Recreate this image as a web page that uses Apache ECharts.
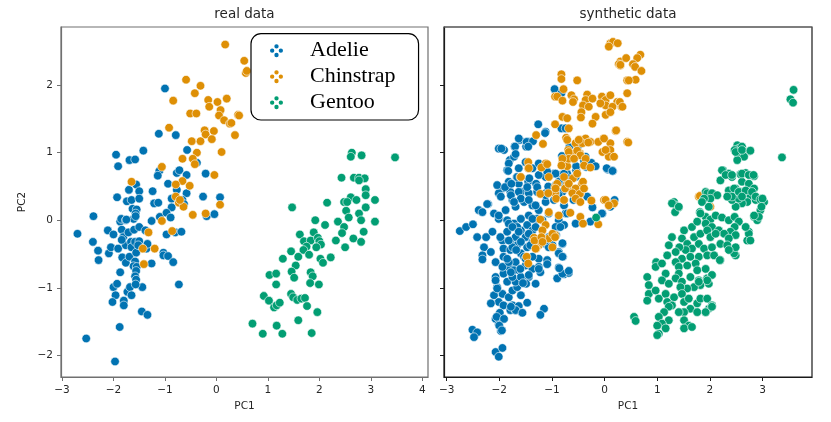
<!DOCTYPE html>
<html>
<head>
<meta charset="utf-8">
<script src="https://cdn.jsdelivr.net/npm/echarts@6/dist/echarts.min.js"></script>
<style>
  html, body { margin: 0; padding: 0; background: #fff; }
  #chart { width: 831px; height: 422px; }
</style>
</head>
<body>
<div id="chart"></div>
<script>
// tick labels
const xTicksReal = [-3, -2, -1, 0, 1, 2, 3, 4];
const xTicksSynth = [-3, -2, -1, 0, 1, 2, 3];
const yTicks = [-2, -1, 0, 1, 2];

const species = ['Adelie', 'Chinstrap', 'Gentoo'];
const speciesColors = ['#0173b2', '#de8f05', '#029e73'];

// real data (PC1, PC2)
const realAdelie = [
  [-1.0,1.95],[-1.12,1.28],[-0.79,1.26],[-1.42,1.03],[-1.95,0.97],[-1.91,0.80],[-1.69,0.89],[-1.58,0.90],
  [-0.57,1.04],[-0.38,0.85],[-1.11,0.73],[-1.14,0.66],[-0.77,0.70],[-0.72,0.74],[-0.58,0.67],[-0.21,0.69],
  [-0.94,0.54],[-1.70,0.45],[-1.56,0.53],[-1.50,0.43],[-1.24,0.43],[-0.77,0.45],[-0.58,0.40],[-1.93,0.34],
  [-1.74,0.28],[-1.65,0.30],[-1.50,0.32],[-1.21,0.25],[-1.13,0.26],[-0.87,0.32],[-0.66,0.30],[-0.26,0.35],
  [0.07,0.34],[-1.63,0.17],[-1.55,0.16],[-0.87,0.19],[-0.63,0.24],
  [-2.70,-0.20],[-2.39,0.06],[-2.40,-0.32],[-2.30,-0.45],[-2.29,-0.59],[-2.11,-0.15],[-2.09,-0.49],[-2.05,-0.40],
  [-2.00,-0.21],[-1.91,-0.42],[-1.87,-0.02],[-1.85,0.02],[-1.84,-0.14],[-1.76,0.00],[-1.81,-0.25],[-1.83,-0.55],
  [-1.76,-0.37],[-1.71,-0.18],[-1.66,-0.32],[-1.65,-0.40],[-1.76,-0.63],[-1.69,-0.54],[-1.87,-0.77],
  [-1.61,0.02],[-1.57,0.10],[-1.60,-0.14],[-1.50,-0.10],[-1.58,-0.32],[-1.56,-0.48],[-1.58,-0.61],[-1.61,-0.68],
  [-1.55,-0.69],[-1.56,-0.75],[-1.58,-0.83],[-1.56,-0.88],[-1.50,-0.31],[-1.38,-0.15],[-1.36,-0.42],[-1.34,-0.35],
  [-1.26,-0.64],[-1.26,-0.01],[-1.10,0.05],[-0.97,0.11],[-0.89,0.04],[-0.97,-0.21],[-0.80,-0.18],[-0.68,-0.17],
  [-1.03,-0.48],[-1.03,-0.52],[-0.94,-0.53],[-0.84,-0.62],[-0.73,-0.95],[-0.19,0.06],[-0.04,0.09],
  [-2.00,-0.99],[-1.93,-0.94],[-1.96,-1.11],[-2.02,-1.21],[-1.80,-1.19],[-1.80,-1.26],[-1.73,-1.06],[-1.68,-0.99],
  [-1.65,-1.11],[-1.44,-0.99],[-1.45,-1.35],[-1.34,-1.40],[-1.88,-1.58],[-2.53,-1.75],[-1.97,-2.09],
  [-1.57,0.06],[-1.75,0.01],[-1.84,-0.29],[-1.52,-0.37],[-1.57,-0.95]
];
const realChinstrap = [
  [0.17,2.60],[-0.59,2.08],[-0.31,1.99],[-0.42,1.88],[-0.84,1.77],[-0.16,1.78],[0.02,1.75],[-0.14,1.68],
  [0.20,1.80],[0.08,1.63],[0.05,1.55],[-0.51,1.58],[-0.39,1.58],[0.15,1.48],[0.26,1.43],[0.42,1.56],
  [-0.92,1.37],[-0.23,1.33],[-0.05,1.32],[-0.21,1.27],[0.36,1.26],[-0.48,1.17],[-0.31,1.17],[-0.09,1.20],
  [0.10,1.01],[-0.38,1.00],[-0.66,0.91],[-0.46,0.91],[-0.42,0.83],[-1.06,0.79],[-0.04,0.67],[-0.66,0.58],
  [-0.79,0.53],[-0.52,0.51],[-1.65,0.57],[-0.79,0.35],[-0.73,0.26],[0.07,0.23],[0.54,2.36],[0.57,2.18],
  [0.59,2.21],[0.44,1.55],[0.29,1.44],[-0.64,0.20],[-0.46,0.08],[-1.06,-0.01],[-1.32,-0.18],[-1.43,-0.42],
  [-1.20,-0.42],[-1.41,-0.65],[-0.86,-0.16],[-0.21,0.10],[-0.71,0.30]
];
const realGentoo = [
  [2.63,1.00],[2.61,0.94],[2.82,0.96],[3.47,0.93],[2.43,0.63],[2.67,0.63],[2.77,0.63],[2.88,0.62],
  [2.77,0.59],[2.90,0.46],[2.90,0.37],[2.61,0.34],[2.72,0.30],[2.48,0.27],[2.54,0.27],[3.08,0.30],
  [2.15,0.26],[1.47,0.19],[2.52,0.14],[2.90,0.19],[2.77,0.10],[2.57,0.04],[1.92,0.00],[2.11,-0.07],
  [2.36,-0.02],[2.48,-0.10],[2.81,0.00],[3.08,-0.02],[2.44,-0.19],[2.86,-0.17],[1.62,-0.21],[1.89,-0.18],
  [1.70,-0.31],[1.83,-0.30],[1.97,-0.26],[2.00,-0.31],[2.03,-0.36],[1.94,-0.40],[1.75,-0.39],[2.32,-0.30],
  [2.66,-0.27],[2.81,-0.32],[2.50,-0.40],[1.45,-0.46],[1.69,-0.44],[1.80,-0.51],[1.29,-0.57],[1.59,-0.54],
  [2.02,-0.57],[2.07,-0.63],[2.22,-0.55],[1.54,-0.67],[1.46,-0.76],[1.03,-0.81],[1.16,-0.79],[1.51,-0.85],
  [1.83,-0.77],[1.87,-0.83],[1.16,-0.95],[1.82,-0.93],[1.99,-0.95],[0.92,-1.12],[1.02,-1.19],[1.12,-1.29],
  [1.17,-1.26],[1.23,-1.22],[1.45,-1.09],[1.49,-1.14],[1.57,-1.18],[1.65,-1.16],[1.72,-1.15],[1.76,-1.27],
  [1.96,-1.36],[1.59,-1.48],[0.70,-1.53],[1.17,-1.56],[0.90,-1.68],[1.28,-1.68],[1.85,-1.67]
];

// synthetic data (PC1, PC2)
const synthAdelie = [
  [-1.61,1.19],[-1.45,1.16],[-1.12,1.31],[-1.71,1.09],[-2.01,1.06],[-1.91,1.04],[-1.49,1.09],[-1.80,0.89],
  [-1.72,0.94],[-1.85,0.74],[-1.67,0.64],[-1.45,0.57],[-1.30,0.54],[-1.12,0.64],[-0.96,0.69],[-0.84,0.67],
  [-0.71,0.69],[-0.54,0.74],[-0.39,0.88],[-0.35,0.79],[0.06,0.75],[0.16,0.73],[-0.93,0.52],[-0.77,0.54],
  [-1.06,0.47],[-1.94,0.47],[-1.82,0.57],[-2.01,0.40],[-1.79,0.42],[-1.63,0.54],[-1.59,0.42],[-1.44,0.40],
  [-1.28,0.42],[-1.12,0.40],[-0.99,0.44],[-0.80,0.42],[-0.65,0.47],[-0.33,0.35],[-0.23,0.19],[-0.04,0.10],
  [0.19,0.30],[-2.21,0.24],[-2.39,0.15],[-2.32,0.12],[-2.10,0.10],[-2.01,0.02],[-1.88,0.15],[-1.75,0.30],
  [-1.69,0.20],[-1.53,0.27],[-1.37,0.22],[-1.25,0.15],[-1.12,0.27],[-0.96,0.30],[-0.87,0.37],[-0.77,0.22],
  [-0.74,0.10],[-0.87,0.00],[-0.77,-0.07],[-0.93,-0.10],[-1.06,0.10],[-1.28,0.02],[-1.44,0.07],[-1.59,0.02],
  [-1.72,-0.05],[-1.85,0.00],[-2.75,-0.16],[-2.63,-0.10],[-2.50,-0.06],[-2.42,-0.25],[-2.25,-0.25],[-2.13,-0.17],
  [-2.29,-0.40],[-2.32,-0.52],[-2.07,-0.62],[-1.94,-0.30],[-1.85,-0.17],[-1.79,-0.30],[-1.69,-0.25],[-1.59,-0.15],
  [-1.50,-0.25],[-1.92,-0.42],[-1.79,-0.44],[-1.66,-0.37],[-1.59,-0.49],[-1.47,-0.40],[-1.37,-0.32],[-1.25,-0.30],
  [-1.12,-0.35],[-1.06,-0.25],[-0.99,-0.37],[-0.80,-0.35],[-0.87,-0.47],[-0.79,-0.54],[-1.25,-0.57],[-1.37,-0.54],
  [-1.09,-0.59],[-1.25,-0.69],[-1.22,-0.77],[-0.87,-0.70],[-0.77,-0.80],[-0.68,-0.78],[-0.90,-0.86],[-2.07,-0.84],
  [-1.92,-0.79],[-1.82,-0.69],[-1.69,-0.62],[-1.63,-0.74],[-1.50,-0.67],[-1.44,-0.84],[-1.49,-0.94],[-2.04,-0.99],
  [-1.94,-1.09],[-2.10,-1.11],[-2.01,-1.21],[-2.16,-1.23],[-1.92,-1.26],[-1.82,-1.14],[-1.75,-1.04],[-1.66,-0.99],
  [-1.59,-1.11],[-1.75,-1.26],[-1.63,-1.27],[-1.47,-1.22],[-1.79,-1.33],[-1.69,-1.33],[-1.57,-1.37],[-1.99,-1.37],
  [-2.07,-1.46],[-2.01,-1.54],[-1.97,-1.64],[-1.15,-1.31],[-1.22,-1.40],[-2.51,-1.62],[-2.42,-1.66],[-2.48,-1.73],
  [-2.07,-1.95],[-1.94,-1.89],[-2.01,-2.02],[-1.82,-0.05],[-1.66,-0.10],[-1.47,-0.07],[-1.37,-0.15],[-1.75,-0.40],
  [-1.59,-0.32],[-1.53,-0.54],[-1.72,-0.74],[-1.85,-0.91],[-1.69,-0.91],[-1.94,-0.69],[-1.59,-0.84],[-1.75,-0.84],
  [-1.37,-0.72],[-1.92,-0.54],[-1.82,-0.62],
  [-0.95,1.94],[-0.82,1.88],[-0.82,1.36],[-0.74,1.36],[-1.26,1.42],[-1.13,1.29],[-1.63,1.21],[-1.48,1.16],
  [-1.36,1.17],[-1.96,1.06],[-1.70,1.09],[-1.45,1.09],[-1.69,0.98],[-0.67,1.08],[-0.49,1.11],[-0.81,0.95],
  [-0.58,0.91],[-0.54,0.80],[-0.36,0.94],[-0.25,0.85],[-0.17,0.80],[0.04,0.77],[0.15,0.73],[-1.82,0.84],
  [-1.63,0.77],[-1.50,0.86],[-1.37,0.77],[-1.25,0.84],[-1.83,0.73],[-1.66,0.64],[-1.43,0.62],[-1.25,0.67],
  [-1.09,0.72],[-0.93,0.69],[-0.77,0.69],[-0.69,0.62],[-0.55,0.64],[-2.04,0.52],[-1.89,0.49],[-1.77,0.54],
  [-1.63,0.42],[-1.47,0.49],[-1.28,0.49],[-1.07,0.50],[-0.87,0.57],[-0.74,0.47],[-1.97,0.35],[-1.78,0.37],
  [-1.59,0.32],[-1.44,0.30],[-1.12,0.37],[-0.93,0.40],[-0.59,0.30],[-2.23,0.24],[-1.72,0.27],[-1.31,0.22],
  [-2.01,0.07],[-2.32,-0.58],[-2.16,-0.47],[-1.98,-0.25],[-2.07,-0.89],[-2.04,-1.01],[-2.05,-1.43],[-1.91,-1.46],
  [-2.00,-1.56],[-1.95,-1.63],[-1.69,-1.33],[-1.56,-1.37],[-1.78,-1.28],[-0.80,-0.79],[-0.68,-0.75],[-0.86,-0.71],
  [-1.09,-0.65],[-1.25,-0.72],[-1.44,-0.81],[-1.31,-0.94],[-1.55,-0.93],[-0.87,-0.49],[-0.80,-0.54],[-1.06,-0.40],
  [-1.12,-0.30],[-0.92,-0.22],[-0.84,-0.10],[-0.80,-0.34],[-0.71,0.10],[-0.55,-0.05],[-0.05,0.10],[0.11,0.20],
  [-0.27,-0.02],[-1.75,-0.10],[-1.63,-0.17],[-1.82,-0.30],[-1.68,-0.44],[-1.50,-0.57],[-1.85,-0.57],[-1.60,-0.72],
  [-1.78,-0.77],[-1.41,-0.37],[-1.44,-0.20],[-1.31,-0.10],[-1.18,0.00],[-1.37,0.02]
];
const synthChinstrap = [
  [0.11,2.62],[0.16,2.64],[0.25,2.62],[0.08,2.57],[0.30,2.35],[0.27,2.31],[0.30,2.29],[-0.82,2.16],
  [-0.82,2.09],[-0.52,2.07],[0.43,2.07],[-0.78,1.94],[-0.94,1.83],[-0.90,1.83],[-0.80,1.77],[-0.63,1.85],
  [-0.58,1.79],[-0.60,1.75],[-0.33,1.86],[-0.36,1.78],[-0.23,1.80],[-0.05,1.83],[0.02,1.78],[0.11,1.85],
  [0.24,1.75],[0.32,1.68],[0.02,1.70],[0.15,1.68],[-0.08,1.73],[-0.41,1.70],[-0.30,1.68],[-0.44,1.60],
  [-0.17,1.53],[0.02,1.56],[0.11,1.60],[-0.45,1.52],[-0.23,1.43],[-0.80,1.53],[-0.71,1.51],[-0.94,1.42],
  [-0.68,1.36],[-0.73,1.22],[-0.47,1.19],[-0.36,1.21],[-0.27,1.16],[-0.55,1.14],[-0.42,1.14],[-1.17,1.13],
  [-1.30,1.26],[-0.02,1.21],[0.11,1.14],[-0.04,1.01],[0.11,1.04],[0.21,1.32],[0.43,1.16],[-0.69,1.04],
  [-0.61,0.98],[-0.47,0.99],[-0.80,0.86],[-0.71,0.80],[-1.12,0.84],[-1.45,0.86],[-1.45,0.77],[0.08,0.94],
  [-0.01,0.30],[0.18,0.25],[-0.94,0.49],[-0.94,0.40],[-0.71,0.54],[-0.62,0.42],[-0.43,0.54],[-0.46,0.40],
  [-0.77,0.30],[-1.60,0.64],
  [0.68,2.45],[0.62,2.40],[0.54,2.31],[0.58,2.27],[0.70,2.21],[0.59,2.08],[0.46,2.07],[0.41,2.40],
  [0.30,2.30],[0.43,1.88],[0.29,1.75],[0.34,1.68],[0.45,1.15],[1.79,0.35],
  [-0.71,1.19],[-0.49,1.19],[-0.31,1.15],[-0.12,1.16],[-0.01,1.21],[0.22,1.33],[0.02,1.04],[0.18,0.94],
  [-0.68,1.01],[-0.52,1.03],[-0.46,0.96],[-0.68,0.91],[-0.58,0.91],[-0.80,0.91],[-0.82,0.81],[-0.36,0.91],
  [-0.39,0.81],[-0.27,0.78],[-1.59,0.64],[-1.44,0.77],[-1.20,0.78],[-1.09,0.83],[-1.06,0.64],[-0.77,0.64],
  [-0.60,0.62],[-0.52,0.69],[-0.90,0.54],[-0.93,0.47],[-0.75,0.47],[-0.68,0.54],[-0.41,0.57],[-0.55,0.47],
  [-0.61,0.40],[-0.47,0.39],[-0.39,0.47],[-1.22,0.39],[-1.07,0.40],[-0.92,0.32],[-0.77,0.30],[-0.55,0.32],
  [-0.46,0.27],[-0.25,0.29],[0.02,0.30],[0.08,0.22],[-0.46,0.05],[-0.41,-0.05],[-0.12,-0.06],[-1.06,0.12],
  [-0.87,0.07],[-0.65,0.11],[-1.22,0.01],[-1.12,-0.07],[-1.18,-0.15],[-0.94,-0.22],[-1.06,-0.27],[-1.34,-0.26],
  [-1.25,-0.37],[-0.99,-0.40],[-1.30,-0.42],[-1.48,-0.54],[-1.45,-0.64],[-1.33,-0.30],[-1.20,-0.25],
  [-1.18,-0.32],[-1.31,-0.42],[-0.99,-0.20],[-0.94,-0.25],[1.81,0.36],[2.01,0.20]
];
const synthGentoo = [
  [2.52,1.11],[2.55,1.06],[2.61,1.09],[2.47,1.04],[2.58,0.99],[2.68,1.01],[2.75,1.02],[2.54,0.94],
  [2.65,0.94],[2.52,0.89],[3.37,0.93],
  [2.25,0.74],[2.36,0.69],[2.20,0.59],[2.42,0.64],[2.58,0.68],[2.68,0.70],[2.77,0.67],[2.84,0.65],
  [2.61,0.57],[2.74,0.54],[2.84,0.47],[2.36,0.44],[2.49,0.47],[2.58,0.42],[2.68,0.40],[2.77,0.35],
  [2.87,0.30],[2.99,0.32],[3.03,0.27],[2.96,0.15],[2.84,0.05],[2.90,0.00],[2.71,0.27],[2.61,0.25],
  [2.49,0.20],[2.36,0.35],[2.42,0.30],[2.55,0.32],
  [1.89,0.32],[1.98,0.35],[2.04,0.40],[2.14,0.37],[1.92,0.42],
  [1.32,0.27],[1.35,0.22],[1.41,0.19],[1.34,0.12],
  [1.81,0.12],[1.92,0.05],[2.01,0.01],[2.11,0.07],[2.23,0.04],[2.36,0.00],[2.47,0.05],[2.55,-0.02],
  [2.47,-0.10],[2.39,-0.17],[2.49,-0.22],[2.68,-0.10],[2.74,-0.17],[2.71,-0.30],
  [1.51,-0.15],[1.66,-0.10],[1.76,-0.02],[1.92,-0.05],[2.04,-0.10],[2.17,-0.15],[2.27,-0.20],[2.36,-0.27],
  [2.20,-0.35],[2.33,-0.37],[2.46,-0.42],[2.49,-0.52],
  [1.28,-0.25],[1.22,-0.37],[1.47,-0.27],[1.57,-0.35],[1.70,-0.25],[1.82,-0.20],[1.95,-0.15],[2.01,-0.25],
  [2.11,-0.20],[1.79,-0.35],[1.89,-0.42],[2.04,-0.40],[1.66,-0.42],[1.54,-0.44],[1.42,-0.40],[1.35,-0.47],
  [1.19,-0.52],[1.47,-0.57],[1.63,-0.54],[1.79,-0.54],[1.95,-0.52],[2.08,-0.52],[2.20,-0.59],
  [0.98,-0.62],[0.97,-0.69],[1.09,-0.64],[1.35,-0.62],[1.41,-0.69],[1.57,-0.67],[1.73,-0.64],[1.76,-0.74],
  [1.92,-0.72],[1.16,-0.79],[1.09,-0.89],[1.22,-0.94],[1.41,-0.79],[1.35,-0.86],[1.47,-0.91],[1.63,-0.84],
  [1.79,-0.89],[1.95,-0.86],[2.04,-0.81],[1.98,-0.94],[1.82,-0.96],[1.70,-0.99],[1.57,-1.01],[1.44,-0.99],
  [0.81,-0.84],[0.84,-0.96],[0.84,-1.09],[0.81,-1.19],[0.97,-1.04],[1.03,-1.16],[1.16,-1.09],[1.19,-1.21],
  [1.32,-1.14],[1.28,-1.26],[1.47,-1.09],[1.51,-1.21],[1.60,-1.16],[1.63,-1.31],[1.51,-1.36],[1.76,-1.23],
  [1.82,-1.16],[1.95,-1.16],[1.98,-1.31],[2.04,-1.26],[1.92,-1.36],[1.76,-1.36],[1.41,-1.36],[1.22,-1.28],
  [1.13,-1.36],[1.03,-1.43],[1.22,-1.48],[1.09,-1.53],[1.00,-1.56],[1.16,-1.60],[1.03,-1.68],[1.51,-1.48],
  [1.60,-1.56],[1.51,-1.60],[1.66,-1.58],[0.56,-1.43],[0.59,-1.49],
  [3.59,1.93],[3.53,1.79],[3.58,1.74],[2.49,1.01],[2.61,1.04],[2.77,1.03],[2.23,0.74],[2.30,0.67],
  [2.42,0.67],[2.61,0.69],[2.74,0.67],[2.83,0.67],[1.95,0.40],[2.04,0.40],[2.14,0.37],[2.01,0.32],
  [1.89,0.32],[1.85,0.27],[2.36,0.44],[2.46,0.47],[2.55,0.42],[2.68,0.44],[2.80,0.42],[2.87,0.35],
  [2.96,0.31],[3.00,0.32],[2.61,0.35],[2.42,0.35],[2.33,0.35],
  [2.93,0.05],[2.84,0.07],[2.98,0.20],[1.82,0.10],[1.98,0.20],[1.28,0.25],[1.41,0.20],[1.00,-1.70],
  [1.92,-1.36],[2.04,-1.28],[2.74,-0.20],[2.77,-0.30],[2.68,-0.10],[2.46,-0.49],[2.49,-0.40],[2.36,-0.44],
  [2.19,-0.59],[2.04,-0.81],[1.95,-0.89],[1.79,-0.91],
  [-0.16,0.04]
];

const realSets = [realAdelie, realChinstrap, realGentoo];
const synthSets = [synthAdelie, synthChinstrap, synthGentoo];

const sansFont = 'DejaVu Sans';
const textColor = '#262626';
const fmtTick = v => (v < 0 ? '\u2212' + Math.abs(v) : String(v));

// four separate dots in a diamond, like the matplotlib legend marker
const dotsIcon = 'path://M4,2a2,2 0 1,0 4,0a2,2 0 1,0 -4,0z' +
  'M0,6a2,2 0 1,0 4,0a2,2 0 1,0 -4,0z' +
  'M8,6a2,2 0 1,0 4,0a2,2 0 1,0 -4,0z' +
  'M4,10a2,2 0 1,0 4,0a2,2 0 1,0 -4,0z';

function makeXAxis(gridIndex, min, max, ticks, lineColor) {
  return {
    type: 'value', gridIndex, min, max,
    axisLine: { show: true, onZero: false, lineStyle: { color: lineColor, width: 1.2 } },
    axisTick: { show: true, length: 4, customValues: ticks, lineStyle: { color: lineColor, width: 1 } },
    axisLabel: { customValues: ticks, formatter: fmtTick, margin: 8, color: textColor, fontFamily: sansFont, fontSize: 10.5 },
    splitLine: { show: false },
    name: 'PC1', nameLocation: 'middle', nameGap: 24,
    nameTextStyle: { color: textColor, fontFamily: sansFont, fontSize: 10.5 }
  };
}

function makeYAxis(gridIndex, showLabels, lineColor) {
  return {
    type: 'value', gridIndex, min: -2.32, max: 2.86,
    axisLine: { show: true, onZero: false, lineStyle: { color: lineColor, width: 1.2 } },
    axisTick: { show: true, length: 4, customValues: yTicks, lineStyle: { color: lineColor, width: 1 } },
    axisLabel: { show: showLabels, customValues: yTicks, formatter: fmtTick, margin: 8, color: textColor, fontFamily: sansFont, fontSize: 10.5 },
    splitLine: { show: false },
    name: showLabels ? 'PC2' : '', nameLocation: 'middle', nameGap: 33,
    nameTextStyle: { color: textColor, fontFamily: sansFont, fontSize: 10.5 }
  };
}

function makeScatter(i, data, axisIndex) {
  return {
    type: 'scatter',
    name: species[i],
    data: data,
    xAxisIndex: axisIndex,
    yAxisIndex: axisIndex,
    symbol: 'circle',
    symbolSize: 8.6,
    itemStyle: { color: speciesColors[i], borderColor: '#ffffff', borderWidth: 0.6, opacity: 1 },
    emphasis: { disabled: true }
  };
}

const series = [];
realSets.forEach((d, i) => series.push(makeScatter(i, d, 0)));
synthSets.forEach((d, i) => series.push(makeScatter(i, d, 1)));

const chart = echarts.init(document.getElementById('chart'), null, { renderer: 'canvas' });
chart.setOption({
  animation: false,
  backgroundColor: '#ffffff',
  grid: [
    { left: 61, top: 27, width: 367, height: 350, show: true, borderColor: '#707070', borderWidth: 1.2, backgroundColor: 'transparent' },
    { left: 444, top: 27, width: 368, height: 350, show: true, borderColor: '#1a1a1a', borderWidth: 1.2, backgroundColor: 'transparent' }
  ],
  xAxis: [
    makeXAxis(0, -3.02, 4.11, xTicksReal, '#707070'),
    makeXAxis(1, -3.05, 3.94, xTicksSynth, '#1a1a1a')
  ],
  yAxis: [
    makeYAxis(0, true, '#707070'),
    makeYAxis(1, false, '#1a1a1a')
  ],
  graphic: [
    { type: 'text', x: 244.5, y: 7, style: { text: 'real data', fontFamily: sansFont, fontSize: 13.5, fill: textColor, textAlign: 'center' } },
    { type: 'text', x: 628, y: 7, style: { text: 'synthetic data', fontFamily: sansFont, fontSize: 13.5, fill: textColor, textAlign: 'center' } },
    // top edge of the right frame is grey in the reference
    { type: 'line', shape: { x1: 444, y1: 27, x2: 812, y2: 27 }, style: { stroke: '#707070', lineWidth: 1.2 }, z: 100 }
  ],
  legend: {
    data: species,
    orient: 'vertical',
    left: 251,
    top: 33.7,
    padding: [4, 23, 4.3, 19],
    itemGap: 0,
    itemWidth: 13,
    itemHeight: 13,
    icon: dotsIcon,
    itemStyle: { borderWidth: 0 },
    selectedMode: false,
    backgroundColor: 'rgba(255,255,255,0.8)',
    borderColor: '#000000',
    borderWidth: 1.2,
    borderRadius: 10,
    textStyle: {
      fontFamily: 'Liberation Serif',
      fontSize: 22,
      lineHeight: 26,
      color: '#000000',
      padding: [0, 0, 0, 22]
    }
  },
  series: series
});
</script>
</body>
</html>
